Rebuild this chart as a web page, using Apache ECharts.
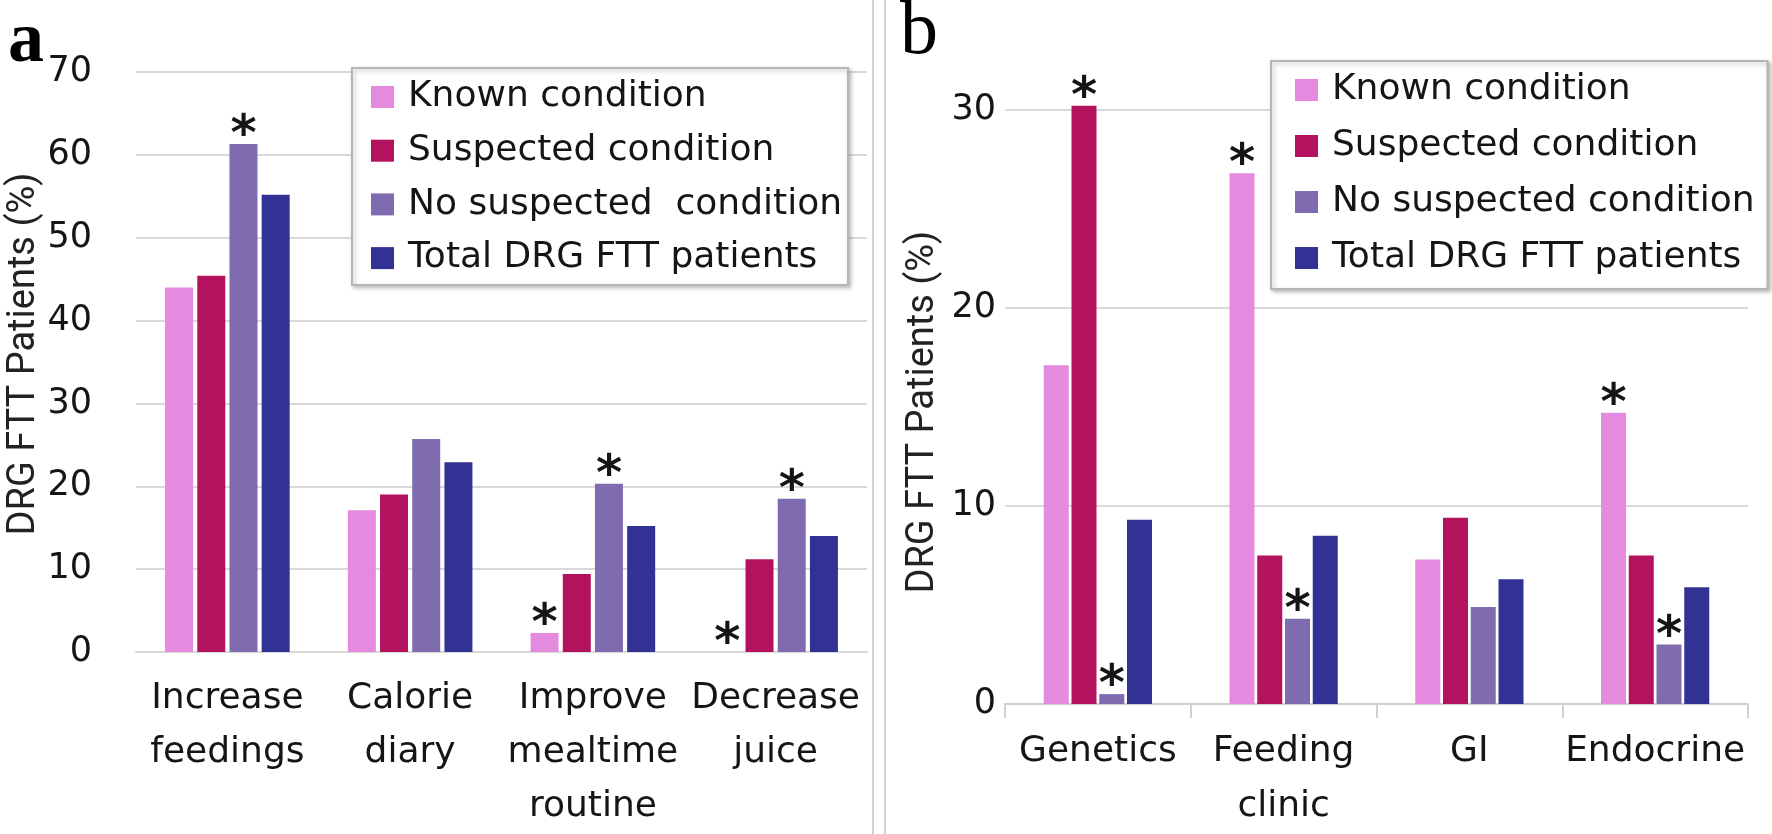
<!DOCTYPE html>
<html><head><meta charset="utf-8">
<script src="https://cdn.jsdelivr.net/npm/echarts@6/dist/echarts.min.js"></script>
<style>html,body{margin:0;padding:0;background:#fff}#c{width:1772px;height:834px}</style>
</head><body><div id="c"></div>
<script>
// ---------- data ----------
const catsA = ['Increase\nfeedings', 'Calorie\ndiary', 'Improve\nmealtime\nroutine', 'Decrease\njuice'];
const catsB = ['Genetics', 'Feeding\nclinic', 'GI', 'Endocrine'];
const namesA = ['Known condition', 'Suspected condition', 'No suspected  condition', 'Total DRG FTT patients'];
const namesB = ['Known condition', 'Suspected condition', 'No suspected condition', 'Total DRG FTT patients'];

const knownA       = [44.0, 17.1, 2.3, 0];
const suspectedA   = [45.4, 19.0, 9.4, 11.2];
const noSuspectedA = [61.3, 25.7, 20.3, 18.5];
const totalA       = [55.2, 22.9, 15.2, 14.0];

const knownB       = [17.1, 26.8, 7.3, 14.7];
const suspectedB   = [30.2, 7.5, 9.4, 7.5];
const noSuspectedB = [0.5, 4.3, 4.9, 3.0];
const totalB       = [9.3, 8.5, 6.3, 5.9];

// significance markers (*), 1 = marked
const knownSigA       = [0, 0, 1, 1];
const suspectedSigA   = [0, 0, 0, 0];
const noSuspectedSigA = [1, 0, 1, 1];
const totalSigA       = [0, 0, 0, 0];
const knownSigB       = [0, 1, 0, 1];
const suspectedSigB   = [1, 0, 0, 0];
const noSuspectedSigB = [1, 1, 0, 1];
const totalSigB       = [0, 0, 0, 0];

const yMaxA = 70, yMaxB = 32, yStep = 10;
const yTitle = 'DRG FTT Patients (%)';

// ---------- styling ----------
const colors = ['#E48ADF', '#B3125F', '#7F6CB0', '#323295'];
const FONT = '"DejaVu Sans"';
const TXT = '#151515';
const GRIDC = '#d9d9d9';

const chart = echarts.init(document.getElementById('c'), null, {renderer: 'canvas'});

function mkSeries(vals, sigs, name, ci, gi, bw, gap) {
  return {
    type: 'bar', name: name, xAxisIndex: gi, yAxisIndex: gi,
    barWidth: bw, barGap: gap,
    itemStyle: {color: colors[ci]},
    label: {show: false, position: 'top', distance: -18, formatter: '*',
      fontFamily: FONT, fontSize: 50, fontWeight: 'bold', color: TXT, lineHeight: 50},
    data: vals.map((v, i) => sigs[i] ? {value: v, label: {show: true}} : {value: v})
  };
}

const seriesA = [
  mkSeries(knownA, knownSigA, namesA[0], 0, 0, 28, '15%'),
  mkSeries(suspectedA, suspectedSigA, namesA[1], 1, 0, 28, '15%'),
  mkSeries(noSuspectedA, noSuspectedSigA, namesA[2], 2, 0, 28, '15%'),
  mkSeries(totalA, totalSigA, namesA[3], 3, 0, 28, '15%')
];
const seriesB = [
  mkSeries(knownB, knownSigB, namesB[0], 0, 1, 25, '11%'),
  mkSeries(suspectedB, suspectedSigB, namesB[1], 1, 1, 25, '11%'),
  mkSeries(noSuspectedB, noSuspectedSigB, namesB[2], 2, 1, 25, '11%'),
  mkSeries(totalB, totalSigB, namesB[3], 3, 1, 25, '11%')
];

const legendCommon = {
  orient: 'vertical', icon: 'rect', itemWidth: 23, itemHeight: 22,
  backgroundColor: '#fff', borderColor: '#b5b5b5', borderWidth: 2,
  shadowBlur: 4, shadowColor: 'rgba(0,0,0,0.25)', shadowOffsetX: 2, shadowOffsetY: 2,
  selectedMode: false,
  textStyle: {fontFamily: FONT, fontSize: 36, color: TXT, lineHeight: 40, padding: [0, 0, 0, 9]}
};

const option = {
  backgroundColor: '#fff',
  animation: false,
  grid: [
    {left: 136, top: 72, width: 731, bottom: 179, containLabel: false},
    {left: 1005, top: 70.2, width: 743, bottom: 126, containLabel: false}
  ],
  xAxis: [
    {type: 'category', gridIndex: 0, data: catsA,
      axisLine: {lineStyle: {color: GRIDC, width: 2}}, axisTick: {show: false},
      axisLabel: {interval: 0, margin: 20, fontFamily: FONT, fontSize: 36, lineHeight: 54, color: TXT}},
    {type: 'category', gridIndex: 1, data: catsB,
      axisLine: {lineStyle: {color: '#d0d0d0', width: 2}},
      axisTick: {show: true, length: 14, lineStyle: {color: '#d0d0d0', width: 2}},
      axisLabel: {interval: 0, margin: 20, fontFamily: FONT, fontSize: 36, lineHeight: 55, color: TXT}}
  ],
  yAxis: [
    {type: 'value', gridIndex: 0, min: 0, max: yMaxA, interval: yStep,
      axisLine: {show: false}, axisTick: {show: false},
      splitLine: {lineStyle: {color: GRIDC, width: 2}},
      axisLabel: {margin: 44, fontFamily: FONT, fontSize: 35, color: TXT},
      name: yTitle, nameLocation: 'middle', nameGap: 89,
      nameTextStyle: {fontFamily: 'Roboto', fontSize: 38, color: '#222', lineHeight: 36, padding: [0, 0, 0, 16]}},
    {type: 'value', gridIndex: 1, min: 0, max: yMaxB, interval: yStep,
      axisLine: {show: false}, axisTick: {show: false},
      splitLine: {showMaxLine: false, lineStyle: {color: GRIDC, width: 2}},
      axisLabel: {margin: 9, fontFamily: FONT, fontSize: 35, color: TXT, showMaxLabel: false},
      name: yTitle, nameLocation: 'middle', nameGap: 64,
      nameTextStyle: {fontFamily: 'Roboto', fontSize: 38, color: '#222', lineHeight: 36, padding: [0, 50, 0, 0]}}
  ],
  legend: [
    Object.assign({}, legendCommon, {data: namesA, left: 352, top: 68, itemGap: 13.7, padding: [9, 6, 7, 19]}),
    Object.assign({}, legendCommon, {data: namesB, left: 1271, top: 61, itemGap: 16, padding: [9, 13, 11, 24]})
  ],
  series: seriesA.concat(seriesB),
  graphic: [
    {type: 'line', shape: {x1: 873, y1: 0, x2: 873, y2: 834}, style: {stroke: '#d2d2d2', lineWidth: 2}, silent: true},
    {type: 'line', shape: {x1: 885, y1: 0, x2: 885, y2: 834}, style: {stroke: '#d2d2d2', lineWidth: 2}, silent: true},
    {type: 'text', left: 8, top: 6, style: {text: 'a', font: 'bold 72px "Liberation Serif"', fill: '#000'}},
    {type: 'text', left: 900, top: -5, style: {text: 'b', font: '76px "Liberation Serif"', fill: '#000'}}
  ]
};
chart.setOption(option);
</script>
</body></html>
